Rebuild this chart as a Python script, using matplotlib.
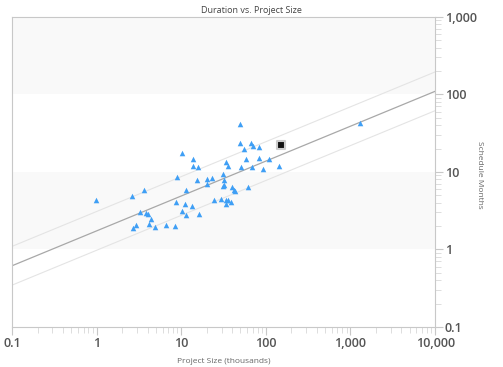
import numpy as np
import matplotlib.pyplot as plt
from matplotlib.ticker import LogLocator, NullFormatter

plt.rcParams['font.family'] = ['Open Sans', 'DejaVu Sans']

# project size (thousands) vs schedule months
size = [0.99, 2.59, 3.62, 3.25, 3.87, 4.08, 4.43, 4.2, 2.92, 2.69, 4.94, 6.59, 8.43,
        10.1, 8.9, 11.5, 8.75, 10.1, 11.2, 11.4, 13.5, 16.1, 13.7, 13.6, 15.9, 15.3,
        20.1, 20.3, 22.9, 24.1, 29.2, 31.4, 31.9, 31.9, 31.4, 33.5, 36.0, 33.5, 39.1,
        40.2, 43.2, 42.0, 49.0, 49.8, 55.7, 57.7, 51.3, 34.1, 35.3, 61.0, 67.4, 69.8,
        82.2, 82.8, 110, 141, 68.5, 92.4, 1295]
months = [4.38, 4.87, 5.77, 3.03, 2.94, 2.83, 2.44, 2.16, 2.08, 1.92, 1.94, 2.08, 2.0,
          17.5, 8.57, 5.89, 4.08, 3.12, 3.81, 2.75, 3.59, 2.89, 14.6, 11.9, 11.7, 7.84,
          8.07, 6.96, 8.41, 4.29, 4.42, 9.29, 7.77, 6.76, 6.6, 4.29, 4.34, 3.81, 4.08,
          6.31, 5.65, 5.9, 41.9, 23.5, 19.7, 14.8, 11.6, 13.3, 12.1, 6.37, 23.5, 21.8,
          20.7, 15.3, 14.8, 12.0, 11.7, 11.0, 42.3]

# highlighted project
current_size = [150]
current_months = [22.0]

# trend fit: log10(months) = a + b*log10(size), band = +/- offset in log10
fit_a = 0.24
fit_b = 0.45
band = 0.25

fig = plt.figure(figsize=(5.03, 3.67), dpi=100)
ax = fig.add_axes([0.024, 0.109, 0.841, 0.845])

ax.set_xscale('log')
ax.set_yscale('log')
ax.set_xlim(0.1, 10000)
ax.set_ylim(0.1, 1000)

# alternating decade shading
ax.axhspan(1, 10, color='#f9f9f9', zorder=0, lw=0)
ax.axhspan(100, 1000, color='#f9f9f9', zorder=0, lw=0)

xs = np.logspace(-1, 4, 50)
ys = 10 ** (fit_a + fit_b * np.log10(xs))
ax.plot(xs, ys, color='#a8a8a8', lw=0.9, zorder=2)
ax.plot(xs, ys * 10 ** band, color='#e4e4e4', lw=0.8, zorder=2)
ax.plot(xs, ys / 10 ** band, color='#e4e4e4', lw=0.8, zorder=2)

ax.scatter(size, months, marker='^', s=16, color='#3f9ff5', zorder=3, lw=0)
ax.scatter(current_size, current_months, marker='s', s=30, color='#111111',
           edgecolors='#cccccc', linewidths=1.5, zorder=4)

for sp in ax.spines.values():
    sp.set_color('#c8c8c8')

ax.yaxis.tick_right()
ax.set_xticks([0.1, 1, 10, 100, 1000, 10000])
ax.set_xticklabels(['0.1', '1', '10', '100', '1,000', '10,000'])
ax.set_yticks([0.1, 1, 10, 100, 1000])
ax.set_yticklabels(['0.1', '1', '10', '100', '1,000'])
ax.xaxis.set_minor_locator(LogLocator(base=10, subs=np.arange(2, 10)))
ax.yaxis.set_minor_locator(LogLocator(base=10, subs=np.arange(2, 10)))
ax.xaxis.set_minor_formatter(NullFormatter())
ax.yaxis.set_minor_formatter(NullFormatter())
ax.tick_params(which='major', length=6, color='#c8c8c8', labelsize=9,
               labelcolor='#555555', pad=1)
ax.tick_params(which='minor', length=4, color='#d8d8d8')
for lab in ax.get_xticklabels() + ax.get_yticklabels():
    lab.set_fontweight('semibold')

ax.set_xlabel('Project Size (thousands)', fontsize=6, color='#666666', labelpad=6)
ax.set_ylabel('Schedule Months', fontsize=6, color='#666666', rotation=270,
              va='center', ha='center')
ax.yaxis.set_label_coords(1.106, 0.49)
fig.text(0.5, 0.985, 'Duration vs. Project Size', ha='center', va='top',
         fontsize=6.5, color='#444444')

fig.savefig('out.png', dpi=100)
